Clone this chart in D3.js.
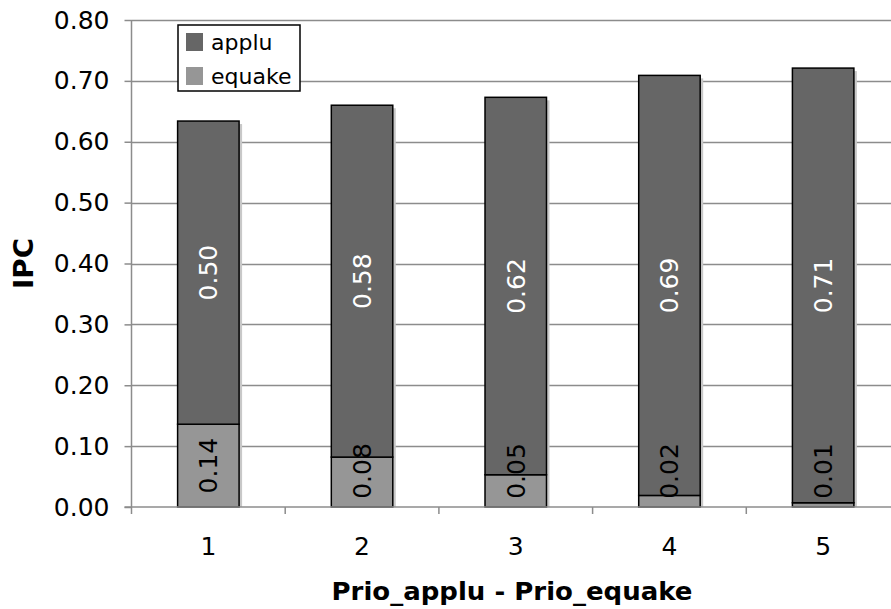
<!DOCTYPE html>
<html>
<head>
<meta charset="utf-8">
<script src="https://cdn.jsdelivr.net/npm/d3@7"></script>
<style>
  body { margin: 0; background: #fff; }
  svg { display: block; font-family: "DejaVu Sans", Verdana, sans-serif; }
</style>
</head>
<body>
<svg id="chart" width="891" height="609"></svg>
<script>
const categories = ["1", "2", "3", "4", "5"];
const equakeValues = [0.136, 0.082, 0.053, 0.019, 0.007];
const appluValues = [0.498, 0.578, 0.620, 0.690, 0.714];
const equakeLabels = ["0.14", "0.08", "0.05", "0.02", "0.01"];
const appluLabels = ["0.50", "0.58", "0.62", "0.69", "0.71"];
const yTicks = [0, 0.1, 0.2, 0.3, 0.4, 0.5, 0.6, 0.7, 0.8];
const seriesNames = ["applu", "equake"];
const seriesColors = { applu: "#666666", equake: "#969696" };

const svg = d3.select("#chart");
const mLeft = 131.5, mRight = 900, mTop = 20, mBottom = 507;

const x = d3.scaleBand().domain(categories).range([mLeft, mRight])
  .paddingInner(0.6).paddingOuter(0.3);
const y = d3.scaleLinear().domain([0, 0.8]).range([mBottom, mTop]);
const step = x.step();

// gridlines
svg.append("g").selectAll("line").data(yTicks.filter(d => d > 0)).join("line")
  .attr("x1", mLeft).attr("x2", 891)
  .attr("y1", d => Math.round(y(d)) + 0.5).attr("y2", d => Math.round(y(d)) + 0.5)
  .attr("stroke", "#8c8c8c").attr("stroke-width", 1.5);

const rows = categories.map((c, i) => ({ c, eq: equakeValues[i], ap: appluValues[i], eqL: equakeLabels[i], apL: appluLabels[i] }));

const barG = svg.append("g");
barG.selectAll("rect.shadow").data(rows).join("rect").attr("class", "shadow")
  .attr("x", d => x(d.c) + 3).attr("y", d => y(d.eq + d.ap) + 3)
  .attr("width", x.bandwidth()).attr("height", d => mBottom - y(d.eq + d.ap) - 3)
  .attr("fill", "#c8c8c8");
barG.selectAll("rect.eq").data(rows).join("rect").attr("class", "eq")
  .attr("x", d => x(d.c)).attr("y", d => y(d.eq))
  .attr("width", x.bandwidth()).attr("height", d => mBottom - y(d.eq))
  .attr("fill", seriesColors.equake).attr("stroke", "#000").attr("stroke-width", 1.5);
barG.selectAll("rect.ap").data(rows).join("rect").attr("class", "ap")
  .attr("x", d => x(d.c)).attr("y", d => y(d.eq + d.ap))
  .attr("width", x.bandwidth()).attr("height", d => y(d.eq) - y(d.eq + d.ap))
  .attr("fill", seriesColors.applu).attr("stroke", "#000").attr("stroke-width", 1.5);

const lblG = svg.append("g").attr("font-size", 25);
lblG.selectAll("text.ap").data(rows).join("text").attr("class", "ap")
  .attr("transform", d => `translate(${x(d.c) + x.bandwidth() / 2},${(y(d.eq) + y(d.eq + d.ap)) / 2}) rotate(-90)`)
  .attr("text-anchor", "middle").attr("dy", "0.36em").attr("fill", "#fff")
  .text(d => d.apL);
lblG.selectAll("text.eq").data(rows).join("text").attr("class", "eq")
  .attr("transform", d => `translate(${x(d.c) + x.bandwidth() / 2},${Math.min((y(d.eq) + mBottom) / 2, mBottom - 36)}) rotate(-90)`)
  .attr("text-anchor", "middle").attr("dy", "0.36em").attr("fill", "#000")
  .text(d => d.eqL);

const yAxis = d3.axisLeft(y).tickValues(yTicks).tickFormat(d3.format(".2f")).tickSize(7).tickPadding(15);
const yg = svg.append("g").attr("transform", `translate(${mLeft},0)`).call(yAxis);
yg.select(".domain").attr("stroke", "#8c8c8c").attr("stroke-width", 1.5).attr("d", `M0,${mTop}V${mBottom}`);
yg.selectAll(".tick line").attr("stroke", "#8c8c8c").attr("stroke-width", 1.5);
yg.selectAll(".tick text").attr("font-size", 25).attr("font-family", "DejaVu Sans").attr("fill", "#000");

const xAxis = d3.axisBottom(x).tickSize(0).tickPadding(30);
const xg = svg.append("g").attr("transform", `translate(0,${mBottom})`).call(xAxis);
xg.select(".domain").attr("stroke", "#8c8c8c").attr("stroke-width", 1.5).attr("d", `M${mLeft - 7},0H891`);
xg.selectAll(".tick text").attr("font-size", 25).attr("font-family", "DejaVu Sans").attr("fill", "#000");
xg.selectAll("line.sep").data(d3.range(categories.length + 1)).join("line").attr("class", "sep")
  .attr("x1", i => mLeft + i * step).attr("x2", i => mLeft + i * step)
  .attr("y1", 0).attr("y2", 7).attr("stroke", "#8c8c8c").attr("stroke-width", 1.5);

svg.append("text").attr("transform", `translate(33,${(mTop + mBottom) / 2}) rotate(-90)`)
  .attr("text-anchor", "middle").attr("font-weight", "bold").attr("font-size", 26)
  .attr("textLength", 51).attr("lengthAdjust", "spacingAndGlyphs")
  .text("IPC");
svg.append("text").attr("x", 512).attr("y", 600)
  .attr("text-anchor", "middle").attr("font-weight", "bold").attr("font-size", 25)
  .attr("textLength", 361).attr("lengthAdjust", "spacingAndGlyphs")
  .text("Prio_applu - Prio_equake");

const lg = svg.append("g");
lg.append("rect").attr("x", 178).attr("y", 25).attr("width", 122).attr("height", 66)
  .attr("fill", "#fff").attr("stroke", "#000").attr("stroke-width", 1.5);
const items = lg.selectAll("g.item").data(seriesNames).join("g").attr("class", "item")
  .attr("transform", (d, i) => `translate(186,${33 + i * 34})`);
items.append("rect").attr("width", 17).attr("height", 18)
  .attr("fill", d => seriesColors[d]);
items.append("text").attr("x", 25).attr("y", 17).attr("font-size", 22).text(d => d);
</script>
</body>
</html>
